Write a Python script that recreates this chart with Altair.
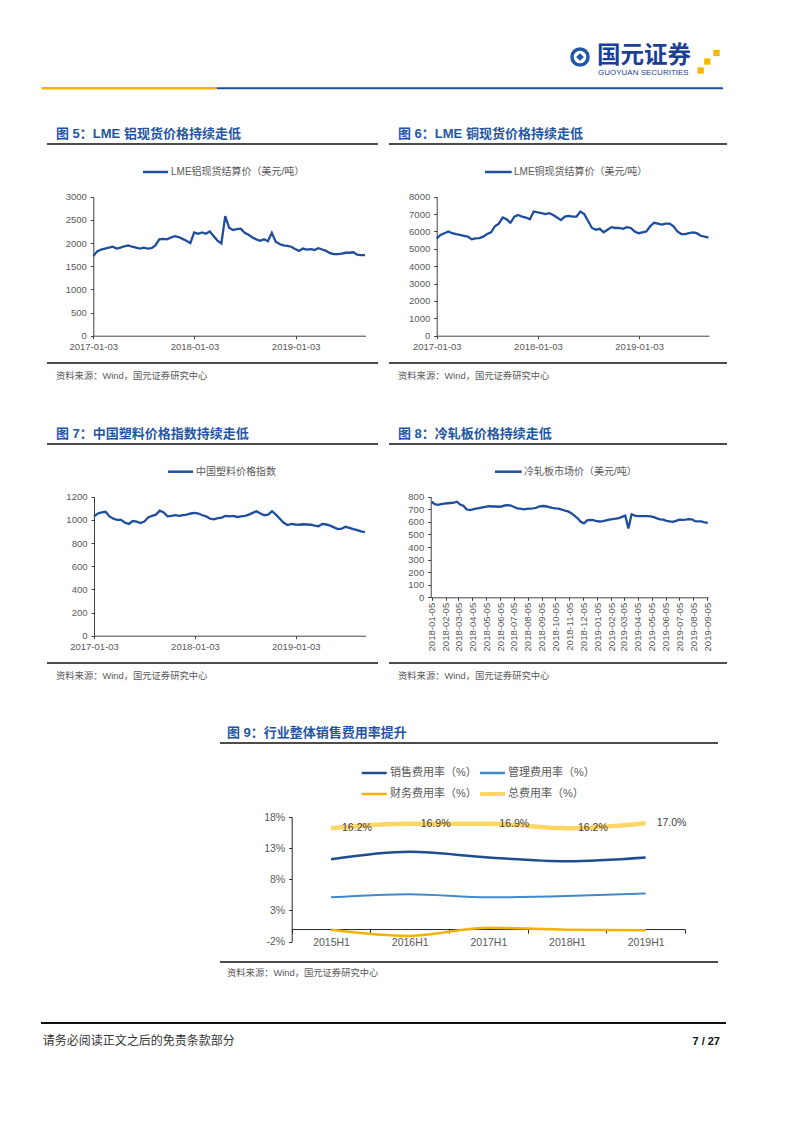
import altair as alt
import pandas as pd

# ---------------- data ----------------
# Fig 5: LME aluminium spot settlement (USD/t), every 14 days from 2017-01-03
al_price = [1720, 1820, 1860, 1880, 1900, 1920, 1880, 1900, 1930, 1950,
            1920, 1900, 1880, 1900, 1880, 1890, 1950, 2080, 2090, 2080,
            2120, 2150, 2130, 2090, 2050, 2000, 2230, 2200, 2230, 2200,
            2250, 2150, 2050, 1990, 2580, 2330, 2280, 2300, 2310, 2220,
            2180, 2120, 2080, 2050, 2080, 2040, 2220, 2030, 1980, 1950,
            1940, 1920, 1870, 1830, 1880, 1860, 1870, 1850, 1890, 1860,
            1830, 1780, 1760, 1760, 1770, 1790, 1790, 1800, 1750, 1740, 1740]
# Fig 6: LME copper spot settlement (USD/t), every 14 days from 2017-01-03
cu_price = [5600, 5800, 5900, 6000, 5900, 5850, 5800, 5750, 5700, 5550,
            5600, 5620, 5700, 5850, 5950, 6300, 6450, 6800, 6700, 6500,
            6850, 6950, 6850, 6800, 6700, 7150, 7100, 7050, 7000, 7050,
            6950, 6800, 6650, 6850, 6900, 6850, 6850, 7150, 7000, 6600,
            6200, 6100, 6150, 5950, 6100, 6250, 6200, 6200, 6150, 6250,
            6200, 6000, 5900, 5950, 6000, 6300, 6500, 6450, 6400, 6450,
            6450, 6300, 6000, 5850, 5850, 5900, 5950, 5900, 5750, 5700, 5650]
# Fig 7: China plastics price index, every 14 days from 2017-01-03
plastic_index = [1030, 1055, 1065, 1070, 1030, 1010, 1000, 1000, 975, 965,
                 990, 985, 972, 985, 1020, 1035, 1045, 1080, 1065, 1030,
                 1035, 1040, 1035, 1040, 1045, 1055, 1060, 1055, 1040, 1030,
                 1010, 1005, 1015, 1020, 1035, 1030, 1035, 1025, 1030, 1035,
                 1045, 1060, 1075, 1055, 1040, 1045, 1075, 1045, 1010, 975,
                 955, 965, 960, 958, 962, 960, 958, 950, 945, 965,
                 960, 950, 935, 920, 925, 940, 930, 920, 912, 900, 895]
# Fig 8: cold rolled sheet market price (USD/t), weekly from 2018-01-05
crc_price = [760, 740, 735, 740, 745, 748, 750, 752, 760, 738,
             728, 700, 694, 700, 705, 710, 715, 720, 725, 722,
             722, 720, 722, 730, 733, 730, 718, 708, 705, 700,
             703, 705, 707, 712, 724, 726, 724, 718, 712, 708,
             705, 698, 690, 683, 668, 650, 628, 600, 588, 612,
             615, 614, 605, 603, 606, 612, 618, 622, 625, 630,
             640, 650, 548, 660, 650, 646, 645, 645, 646, 643,
             638, 628, 620, 618, 608, 603, 600, 608, 618, 615,
             618, 622, 620, 605, 603, 604, 595, 592]
# Fig 9: expense ratios (%)
fee_periods = ["2015H1", "2016H1", "2017H1", "2018H1", "2019H1"]
sales_rate = [11.2, 12.4, 11.5, 10.9, 11.5]
admin_rate = [5.1, 5.6, 5.1, 5.3, 5.7]
fin_rate = [-0.1, -1.1, 0.2, -0.1, -0.2]
total_rate = [16.2, 16.9, 16.9, 16.2, 17.0]
total_label = ["16.2%", "16.9%", "16.9%", "16.2%", "17.0%"]

lme_ticks = ["2017-01-03", "2018-01-03", "2019-01-03"]
crc_ticks = ["2018-01-05", "2018-02-05", "2018-03-05", "2018-04-05", "2018-05-05",
             "2018-06-05", "2018-07-05", "2018-08-05", "2018-09-05", "2018-10-05",
             "2018-11-05", "2018-12-05", "2019-01-05", "2019-02-05", "2019-03-05",
             "2019-04-05", "2019-05-05", "2019-06-05", "2019-07-05", "2019-08-05",
             "2019-09-05"]
ticks_al = [0, 500, 1000, 1500, 2000, 2500, 3000]
ticks_cu = [0, 1000, 2000, 3000, 4000, 5000, 6000, 7000, 8000]
ticks_pl = [0, 200, 400, 600, 800, 1000, 1200]
ticks_crc = [0, 100, 200, 300, 400, 500, 600, 700, 800]
ticks_fee = [-2, 3, 8, 13, 18]

# ---------------- layout helpers ----------------
W, H = 786, 1117


def X(v):  # page x -> chart x
    return v - 8


def Y(v):  # page y -> chart y
    return v - 8


BLUE_LINE = "#1f4e9c"
TITLE_BLUE = "#1f56a3"
GREY = "#595959"
AX = "#404040"
CJK = "Noto Sans CJK SC"
MIX = "Liberation Sans, Noto Sans CJK SC"

one = pd.DataFrame({"k": [0]})


def dt(s):
    y, m, d = (int(p) for p in s.split("-"))
    return alt.DateTime(year=y, month=m, date=d, utc=True)


def series_dates(start, n, step):
    return pd.date_range(start, periods=n, freq=step).strftime("%Y-%m-%d").tolist()


def hrule(x1, x2, y, color, width):
    return alt.Chart(one).mark_rule(color=color, strokeWidth=width).encode(
        x=alt.value(X(x1)), x2=alt.value(X(x2)), y=alt.value(Y(y)))


def label(s, x, y, size, color, font=MIX, bold=False, align="left"):
    return alt.Chart(one).mark_text(
        text=s, align=align, baseline="middle", fontSize=size, color=color,
        font=font, fontWeight="bold" if bold else "normal").encode(
        x=alt.value(X(x)), y=alt.value(Y(y)))


def ax(**kw):
    base = dict(title=None, grid=False, labelFont="Liberation Sans", labelFontSize=9.5,
                labelColor=GREY, domainColor=AX, tickColor=AX, tickSize=3,
                domainWidth=1, tickWidth=1, labelFlush=False, labelOverlap=False)
    base.update(kw)
    return alt.Axis(**base)


def ts_layer(dates, vals, xdom, xr, ydom, yr, yticks, xticks, **xkw):
    df = pd.DataFrame({"date": dates, "value": vals})
    xa = dict(orient="bottom", offset=Y(yr[0]) - H, values=[dt(s) for s in xticks],
              labelExpr="utcFormat(datum.value, '%Y-%m-%d')", labelPadding=3)
    xa.update(xkw)
    return alt.Chart(df).mark_line(color=BLUE_LINE, strokeWidth=2.3).encode(
        x=alt.X("date:T",
                scale=alt.Scale(type="utc", domain=[dt(xdom[0]), dt(xdom[1])],
                                range=[X(xr[0]), X(xr[1])]),
                axis=ax(**xa)),
        y=alt.Y("value:Q",
                scale=alt.Scale(domain=ydom, range=[Y(yr[0]), Y(yr[1])], nice=False, zero=False),
                axis=ax(orient="left", offset=-X(xr[0]), values=yticks, format="d",
                        labelPadding=4)))


layers = []

# ---------------- header ----------------
layers += [
    hrule(41.7, 216.7, 88.3, "#f5b400", 2.5),
    hrule(216.7, 723, 88.3, BLUE_LINE, 2),
    alt.Chart(one).mark_circle(size=380, color="#1f57a8", opacity=1).encode(
        x=alt.value(X(580)), y=alt.value(Y(57))),
    alt.Chart(one).mark_circle(size=160, color="white", opacity=1).encode(
        x=alt.value(X(580)), y=alt.value(Y(57))),
    alt.Chart(one).mark_point(shape="diamond", filled=True, size=60, color="#1f57a8", opacity=1).encode(
        x=alt.value(X(580)), y=alt.value(Y(57))),
    label("国元证券", 597, 55.5, 23.5, "#1c3f94", font=CJK, bold=True),
    label("GUOYUAN SECURITIES", 598, 72.5, 8, "#1c3f94", font="Liberation Sans"),
    alt.Chart(one).mark_square(size=40, color="#f5b800", opacity=1).encode(
        x=alt.value(X(716.5)), y=alt.value(Y(53))),
    alt.Chart(one).mark_square(size=40, color="#f5b800", opacity=1).encode(
        x=alt.value(X(707.3)), y=alt.value(Y(61.5))),
    alt.Chart(one).mark_square(size=40, color="#f5b800", opacity=1).encode(
        x=alt.value(X(700.7)), y=alt.value(Y(70.5))),
]

# ---------------- panel frames ----------------
SRC = "资料来源：Wind，国元证券研究中心"
for (xl, xr_, tx, ty_title, y_top_rule, y_src_rule, y_src, title) in [
    (47, 378, 56, 134, 144, 363, 376, "图 5：LME 铝现货价格持续走低"),
    (389, 727, 398, 134, 144, 363, 376, "图 6：LME 铜现货价格持续走低"),
    (47, 378, 56, 434, 444, 663, 676, "图 7：中国塑料价格指数持续走低"),
    (389, 727, 398, 434, 444, 663, 676, "图 8：冷轧板价格持续走低"),
    (220, 718, 227, 733, 743, 962, 973, "图 9：行业整体销售费用率提升"),
]:
    layers += [
        label(title, tx, ty_title, 13, TITLE_BLUE, bold=True),
        hrule(xl, xr_, y_top_rule, "#111111", 1.5),
        hrule(xl, xr_, y_src_rule, "#111111", 1.5),
        label(SRC, tx, y_src, 9.3, GREY),
    ]

# ---------------- legends ----------------
layers += [
    hrule(143, 168, 172, BLUE_LINE, 2.5),
    label("LME铝现货结算价（美元/吨）", 171, 172, 10, GREY),
    hrule(485, 511.7, 172, BLUE_LINE, 2.5),
    label("LME铜现货结算价（美元/吨）", 514, 172, 10, GREY),
    hrule(168, 193, 471.7, BLUE_LINE, 2.5),
    label("中国塑料价格指数", 196, 471.7, 10, GREY),
    hrule(495, 521.7, 471.7, BLUE_LINE, 2.5),
    label("冷轧板市场价（美元/吨）", 524, 471.7, 10, GREY),
]

# ---------------- figs 5-8 ----------------
layers += [
    ts_layer(series_dates("2017-01-03", len(al_price), "14D"), al_price,
             ("2017-01-03", "2019-09-12"), (93.3, 365.5), [0, 3000], (335.7, 196.7),
             ticks_al, lme_ticks),
    ts_layer(series_dates("2017-01-03", len(cu_price), "14D"), cu_price,
             ("2017-01-03", "2019-09-12"), (436.7, 709), [0, 8000], (335.7, 196.7),
             ticks_cu, lme_ticks),
    ts_layer(series_dates("2017-01-03", len(plastic_index), "14D"), plastic_index,
             ("2017-01-03", "2019-09-12"), (94, 365.5), [0, 1200], (635.7, 496.7),
             ticks_pl, lme_ticks),
    ts_layer(series_dates("2018-01-05", len(crc_price), "7D"), crc_price,
             ("2018-01-03", "2019-09-07"), (430.7, 708.2), [0, 800], (597.3, 496.7),
             ticks_crc, crc_ticks, labelAngle=270, labelPadding=2),
]

# ---------------- fig 9 ----------------
df9 = pd.DataFrame({"period": fee_periods, "sales": sales_rate, "admin": admin_rate,
                    "fin": fin_rate, "total": total_rate, "label": total_label})
P_LEFT, P_RIGHT = 291.7, 685
Y_BOT, Y_TOP = 941.5, 817
zero_page = Y_BOT - 2 * (Y_BOT - Y_TOP) / 20
x9 = alt.Scale(type="point", domain=fee_periods, range=[X(P_LEFT), X(P_RIGHT)], padding=0.5)
y9 = alt.Scale(domain=[-2, 18], range=[Y(Y_BOT), Y(Y_TOP)], nice=False, zero=False)


def fee_line(field, color, width):
    return alt.Chart(df9).mark_line(color=color, strokeWidth=width, interpolate="monotone").encode(
        x=alt.X("period:N", scale=x9, axis=None),
        y=alt.Y(f"{field}:Q", scale=y9, axis=None))


C_SALES, C_ADMIN, C_FIN, C_TOTAL = "#1f4e8f", "#4189cd", "#f2b300", "#fdd666"
layers += [
    fee_line("total", C_TOTAL, 4.5),
    fee_line("sales", C_SALES, 2.5),
    fee_line("admin", C_ADMIN, 2),
    alt.Chart(df9).mark_point(opacity=0).encode(
        x=alt.X("period:N",
                scale=alt.Scale(type="band", domain=fee_periods, range=[X(P_LEFT), X(P_RIGHT)],
                                paddingInner=0, paddingOuter=0),
                axis=ax(orient="bottom", offset=Y(zero_page) - H, tickBand="extent", tickSize=4,
                        labelPadding=4, labelAngle=0, labelFontSize=10.5, domainColor="#262626",
                        tickColor="#262626")),
        y=alt.Y("total:Q", scale=y9,
                axis=ax(orient="left", offset=-X(P_LEFT), values=ticks_fee,
                        labelExpr="datum.value + '%'", labelFontSize=10.5, labelPadding=4,
                        domainColor="#262626", tickColor="#262626"))),
    fee_line("fin", C_FIN, 2.5),
    alt.Chart(df9).mark_text(align="left", baseline="middle", dx=11, fontSize=10.5,
                             color="#404040", font="Liberation Sans").encode(
        x=alt.X("period:N", scale=x9, axis=None),
        y=alt.Y("total:Q", scale=y9, axis=None),
        text="label:N"),
    # legend
    hrule(361.7, 386.7, 773, C_SALES, 2.5),
    label("销售费用率（%）", 390, 773, 11, GREY),
    hrule(480, 505, 773, C_ADMIN, 2.5),
    label("管理费用率（%）", 508, 773, 11, GREY),
    hrule(361.7, 386.7, 794, C_FIN, 2.5),
    label("财务费用率（%）", 390, 794, 11, GREY),
    hrule(480, 505, 794, C_TOTAL, 4),
    label("总费用率（%）", 508, 794, 11, GREY),
]

# ---------------- footer ----------------
layers += [
    hrule(41, 726, 1023, "#111111", 2),
    label("请务必阅读正文之后的免责条款部分", 42.7, 1040.5, 12, "#333333", font=CJK),
    label("7 / 27", 720, 1041.5, 11, "#111111", font="Liberation Sans", bold=True, align="right"),
]

chart = alt.layer(*layers).properties(
    width=W, height=H, padding=0,
    autosize=alt.AutoSizeParams(type="none"),
).resolve_scale(x="independent", y="independent").configure_view(strokeWidth=0)

chart.save("out.html", embed_options={"renderer": "svg", "actions": False})
